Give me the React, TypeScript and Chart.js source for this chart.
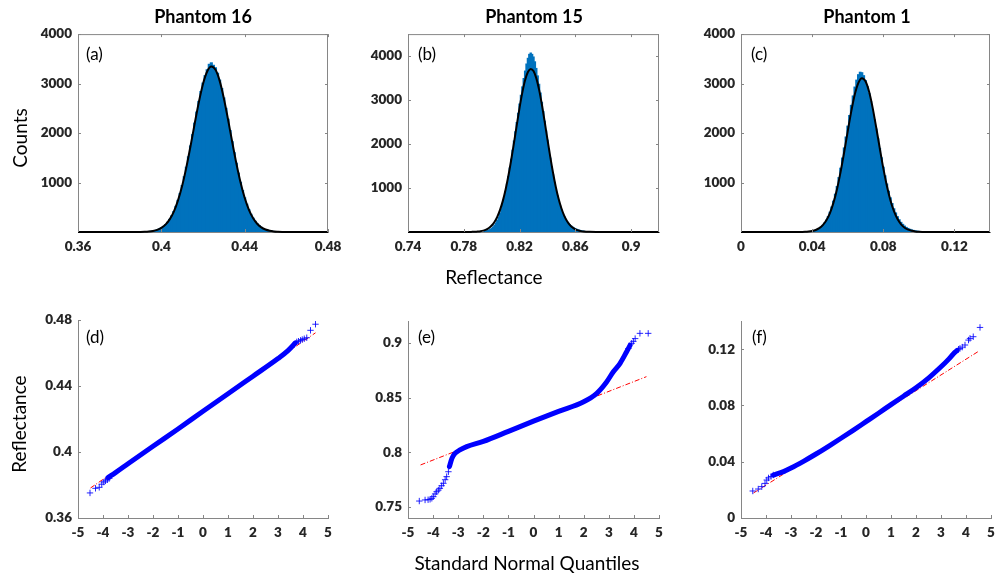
import { useEffect, useRef } from "react";
import { Chart, registerables } from "chart.js";

Chart.register(...registerables);

// ---------------- Histogram data (Phantom 16) ----------------
const A_BINS = [0.389, 0.390, 0.391, 0.392, 0.393, 0.394, 0.395, 0.396, 0.397, 0.398, 0.399, 0.400, 0.401, 0.402, 0.403, 0.404, 0.405, 0.406, 0.407, 0.408, 0.409, 0.410, 0.411, 0.412, 0.413, 0.414, 0.415, 0.416, 0.417, 0.418, 0.419, 0.420, 0.421, 0.422, 0.423, 0.424, 0.425, 0.426, 0.427, 0.428, 0.429, 0.430, 0.431, 0.432, 0.433, 0.434, 0.435, 0.436, 0.437, 0.438, 0.439, 0.440, 0.441, 0.442, 0.443, 0.444, 0.445, 0.446, 0.447, 0.448, 0.449, 0.450, 0.451, 0.452, 0.453, 0.454, 0.455, 0.456, 0.457, 0.458, 0.459];
const A_COUNTS = [1, 2, 3, 5, 7, 11, 15, 22, 31, 44, 62, 84, 113, 150, 197, 256, 328, 415, 519, 641, 780, 940, 1118, 1310, 1520, 1740, 1968, 2200, 2425, 2640, 2840, 3010, 3160, 3280, 3390, 3420, 3370, 3320, 3210, 3070, 2900, 2710, 2500, 2280, 2052, 1826, 1603, 1390, 1190, 1005, 839, 691, 563, 453, 359, 282, 218, 167, 126, 94, 69, 50, 36, 25, 18, 12, 8, 6, 4, 2, 1];
const A_FIT_X = [0.36, 0.37, 0.38, 0.386, 0.388, 0.390, 0.392, 0.394, 0.396, 0.398, 0.400, 0.402, 0.404, 0.406, 0.408, 0.410, 0.412, 0.414, 0.416, 0.418, 0.420, 0.422, 0.424, 0.426, 0.428, 0.430, 0.432, 0.434, 0.436, 0.438, 0.440, 0.442, 0.444, 0.446, 0.448, 0.450, 0.452, 0.454, 0.456, 0.458, 0.460, 0.462, 0.47, 0.48];
const A_FIT_Y = [0, 0, 0, 0, 1, 2, 5, 11, 22, 44, 83, 149, 255, 413, 639, 936, 1307, 1734, 2189, 2624, 2993, 3244, 3344, 3277, 3054, 2704, 2278, 1825, 1389, 1005, 691, 453, 282, 167, 94, 50, 25, 12, 6, 2, 1, 0, 0, 0];

// ---------------- Histogram data (Phantom 15) ----------------
const B_BINS = [0.795, 0.796, 0.797, 0.798, 0.799, 0.800, 0.801, 0.802, 0.803, 0.804, 0.805, 0.806, 0.807, 0.808, 0.809, 0.810, 0.811, 0.812, 0.813, 0.814, 0.815, 0.816, 0.817, 0.818, 0.819, 0.820, 0.821, 0.822, 0.823, 0.824, 0.825, 0.826, 0.827, 0.828, 0.829, 0.830, 0.831, 0.832, 0.833, 0.834, 0.835, 0.836, 0.837, 0.838, 0.839, 0.840, 0.841, 0.842, 0.843, 0.844, 0.845, 0.846, 0.847, 0.848, 0.849, 0.850, 0.851, 0.852, 0.853, 0.854, 0.855, 0.856, 0.857, 0.858, 0.859, 0.860, 0.861, 0.862, 0.863, 0.864, 0.865, 0.866, 0.867, 0.868];
const B_COUNTS = [18, 25, 34, 45, 62, 85, 115, 155, 205, 265, 340, 425, 530, 645, 780, 925, 1090, 1265, 1455, 1655, 1860, 2070, 2280, 2490, 2700, 2910, 3110, 3300, 3490, 3660, 3820, 3950, 4040, 4070, 4040, 3980, 3870, 3720, 3550, 3360, 3160, 2950, 2740, 2520, 2300, 2090, 1880, 1680, 1485, 1300, 1130, 970, 830, 705, 595, 500, 420, 350, 290, 240, 200, 165, 136, 112, 92, 76, 62, 50, 40, 32, 25, 18, 13, 9];
const B_FIT_X = [0.74, 0.78, 0.784, 0.786, 0.788, 0.790, 0.792, 0.794, 0.796, 0.798, 0.800, 0.802, 0.804, 0.806, 0.808, 0.810, 0.812, 0.814, 0.816, 0.818, 0.820, 0.822, 0.824, 0.826, 0.828, 0.830, 0.832, 0.834, 0.836, 0.838, 0.840, 0.842, 0.844, 0.846, 0.848, 0.850, 0.852, 0.854, 0.856, 0.858, 0.860, 0.862, 0.864, 0.866, 0.870, 0.875, 0.92];
const B_FIT_Y = [0, 0, 1, 3, 5, 10, 18, 32, 55, 92, 147, 229, 345, 502, 708, 968, 1279, 1637, 2028, 2432, 2824, 3174, 3454, 3638, 3709, 3662, 3499, 3237, 2899, 2512, 2108, 1713, 1348, 1025, 755, 539, 372, 249, 161, 101, 61, 36, 20, 11, 3, 0, 0];

// ---------------- Histogram data (Phantom 1) ----------------
const C_BINS = [0.034, 0.035, 0.036, 0.037, 0.038, 0.039, 0.040, 0.041, 0.042, 0.043, 0.044, 0.045, 0.046, 0.047, 0.048, 0.049, 0.050, 0.051, 0.052, 0.053, 0.054, 0.055, 0.056, 0.057, 0.058, 0.059, 0.060, 0.061, 0.062, 0.063, 0.064, 0.065, 0.066, 0.067, 0.068, 0.069, 0.070, 0.071, 0.072, 0.073, 0.074, 0.075, 0.076, 0.077, 0.078, 0.079, 0.080, 0.081, 0.082, 0.083, 0.084, 0.085, 0.086, 0.087, 0.088, 0.089, 0.090, 0.091, 0.092, 0.093, 0.094, 0.095, 0.096, 0.097, 0.098, 0.099, 0.100, 0.101, 0.102, 0.103, 0.104, 0.105, 0.106, 0.107, 0.108];
const C_COUNTS = [1, 1, 2, 4, 6, 10, 15, 24, 35, 50, 70, 98, 135, 182, 240, 312, 400, 505, 625, 765, 920, 1100, 1290, 1495, 1700, 1920, 2140, 2355, 2560, 2750, 2930, 3070, 3180, 3230, 3220, 3160, 3060, 2940, 2800, 2640, 2460, 2270, 2080, 1885, 1690, 1500, 1310, 1135, 970, 825, 690, 575, 470, 385, 310, 248, 195, 155, 120, 93, 72, 55, 42, 32, 24, 18, 13, 10, 7, 5, 4, 3, 2, 1, 1];
const C_FIT_X = [0, 0.02, 0.030, 0.032, 0.034, 0.036, 0.038, 0.040, 0.042, 0.044, 0.046, 0.048, 0.050, 0.052, 0.054, 0.056, 0.058, 0.060, 0.062, 0.064, 0.066, 0.068, 0.070, 0.072, 0.074, 0.076, 0.078, 0.080, 0.082, 0.084, 0.086, 0.088, 0.090, 0.092, 0.094, 0.096, 0.098, 0.100, 0.102, 0.104, 0.108, 0.14];
const C_FIT_Y = [0, 0, 0, 1, 2, 4, 10, 21, 41, 77, 139, 237, 384, 594, 871, 1216, 1611, 2034, 2438, 2783, 3016, 3110, 3048, 2840, 2515, 2118, 1698, 1291, 936, 643, 421, 262, 155, 87, 47, 24, 11, 5, 2, 1, 0, 0];

// ---------------- Q-Q data (Phantom 16) ----------------
const D_LINE_X = [-4.5, 4.5];
const D_LINE_Y = [0.3782, 0.4723];
const D_BODY_X = [-3.8, -3.5, -3, -2, -1, 0, 1, 2, 3, 3.4, 3.7];
const D_BODY_Y = [0.3845, 0.3875, 0.3929, 0.4035, 0.4140, 0.4247, 0.4353, 0.4460, 0.4567, 0.4615, 0.4662];
const D_PTS_X = [-4.52, -4.3, -4.15, -4.05, -3.97, -3.9, -3.82, -3.75, 3.75, 3.82, 3.9, 3.97, 4.05, 4.15, 4.3, 4.5];
const D_PTS_Y = [0.3752, 0.3780, 0.3786, 0.3805, 0.3818, 0.3825, 0.3832, 0.3840, 0.4668, 0.4672, 0.4677, 0.4682, 0.4687, 0.4693, 0.4738, 0.4775];

// ---------------- Q-Q data (Phantom 15) ----------------
const E_LINE_X = [-4.5, 4.5];
const E_LINE_Y = [0.7885, 0.8692];
const E_BODY_X = [-3.35, -3.25, -3.13, -2.93, -2.66, -2, -1, 0, 1, 2, 2.52, 2.92, 3.18, 3.45, 3.71, 3.85];
const E_BODY_Y = [0.7870, 0.7945, 0.7990, 0.8022, 0.8052, 0.8100, 0.8192, 0.8285, 0.8375, 0.8463, 0.8540, 0.8646, 0.8737, 0.8814, 0.8920, 0.8980];
const E_PTS_X = [-4.55, -4.32, -4.2, -4.12, -4.05, -3.99, -3.92, -3.86, -3.79, -3.73, -3.66, -3.59, -3.52, -3.46, -3.39, 3.78, 3.91, 3.98, 4.05, 4.24, 4.57];
const E_PTS_Y = [0.7555, 0.7565, 0.7567, 0.7571, 0.7580, 0.7595, 0.7620, 0.7640, 0.7655, 0.7671, 0.7695, 0.7717, 0.7750, 0.7778, 0.7823, 0.8950, 0.8997, 0.9015, 0.9040, 0.9088, 0.9088];

// ---------------- Q-Q data (Phantom 1) ----------------
const F_LINE_X = [-4.5, 4.5];
const F_LINE_Y = [0.0178, 0.1185];
const F_BODY_X = [-3.7, -3.3, -3, -2.5, -2, -1.5, -1, -0.5, 0, 0.5, 1, 1.5, 2, 2.5, 3, 3.3, 3.5, 3.65];
const F_BODY_Y = [0.0305, 0.0330, 0.0355, 0.0403, 0.0455, 0.0510, 0.0567, 0.0625, 0.0685, 0.0745, 0.0806, 0.0866, 0.0926, 0.0995, 0.1075, 0.1128, 0.1168, 0.1192];
const F_PTS_X = [-4.53, -4.31, -4.17, -4.04, -3.97, -3.9, -3.8, -3.71, 3.7, 3.76, 3.85, 3.96, 4.1, 4.16, 4.29, 4.56];
const F_PTS_Y = [0.0192, 0.0206, 0.0223, 0.0246, 0.0270, 0.0285, 0.0295, 0.0306, 0.1200, 0.1206, 0.1215, 0.1230, 0.1265, 0.1277, 0.1289, 0.1355];

// ---------------- Tick labels ----------------
const A_XTICKS = [0.36, 0.4, 0.44, 0.48];
const B_XTICKS = [0.74, 0.78, 0.82, 0.86, 0.9];
const C_XTICKS = [0, 0.04, 0.08, 0.12];
const COUNT_TICKS = [1000, 2000, 3000, 4000];
const Q_XTICKS = [-5, -4, -3, -2, -1, 0, 1, 2, 3, 4, 5];
const D_YTICKS = [0.36, 0.4, 0.44, 0.48];
const E_YTICKS = [0.75, 0.8, 0.85, 0.9];
const F_YTICKS = [0, 0.04, 0.08, 0.12];

const TITLES = ["Phantom 16", "Phantom 15", "Phantom 1"];
const PANEL_TAGS = ["(a)", "(b)", "(c)", "(d)", "(e)", "(f)"];

// ---------------- Styling / layout ----------------
const FONT = "Lato, 'Open Sans', 'DejaVu Sans', sans-serif";
const AXIS_COLOR = "#868686";
const TICK_COLOR = "#262626";
const HIST_BLUE = "#0072BD";
const QQ_BLUE = "#0000FF";

const PAD_L = 60, PAD_T = 14, PAD_R = 24, PAD_B = 30;

type Box = { l: number; t: number; r: number; b: number };
const BOX_A: Box = { l: 78, t: 34, r: 328, b: 232 };
const BOX_B: Box = { l: 408, t: 34, r: 659, b: 232 };
const BOX_C: Box = { l: 741, t: 34, r: 990, b: 232 };
const BOX_D: Box = { l: 78, t: 320, r: 328, b: 518 };
const BOX_E: Box = { l: 408, t: 321, r: 659, b: 518 };
const BOX_F: Box = { l: 741, t: 321, r: 991, b: 518 };

const zip = (xs: number[], ys: number[]) => xs.map((x, i) => ({ x, y: ys[i] }));

const framePlugin = {
  id: "frame",
  afterDatasetsDraw(chart: any, _args: any, opts: any) {
    const { ctx, chartArea, scales } = chart;
    const { left, right, top, bottom } = chartArea;
    const L = 3;
    ctx.save();
    ctx.strokeStyle = AXIS_COLOR;
    ctx.lineWidth = 1;
    ctx.beginPath();
    if (opts && opts.box) {
      ctx.moveTo(left, top + 0.5);
      ctx.lineTo(right, top + 0.5);
      ctx.moveTo(right - 0.5, top);
      ctx.lineTo(right - 0.5, bottom);
    }
    for (const t of scales.x.ticks) {
      const p = Math.round(scales.x.getPixelForValue(t.value)) + 0.5;
      ctx.moveTo(p, bottom);
      ctx.lineTo(p, bottom - L);
      if (opts && opts.box) {
        ctx.moveTo(p, top);
        ctx.lineTo(p, top + L);
      }
    }
    for (const t of scales.y.ticks) {
      const p = Math.round(scales.y.getPixelForValue(t.value)) + 0.5;
      ctx.moveTo(left, p);
      ctx.lineTo(left + L, p);
      if (opts && opts.box) {
        ctx.moveTo(right, p);
        ctx.lineTo(right - L, p);
      }
    }
    ctx.stroke();
    ctx.restore();
  },
};

function makeScales(xMin: number, xMax: number, xTicks: number[], yMin: number, yMax: number, yTicks: number[]) {
  const font = { family: FONT, size: 13.5, weight: 800 as any };
  return {
    x: {
      type: "linear" as const,
      min: xMin,
      max: xMax,
      offset: false,
      grid: { display: false, drawTicks: false },
      border: { display: true, color: AXIS_COLOR, width: 1 },
      ticks: { color: TICK_COLOR, font, padding: 7, autoSkip: false, maxRotation: 0, callback: (v: any) => String(v) },
      afterBuildTicks: (s: any) => { s.ticks = xTicks.map((v) => ({ value: v })); },
      afterFit: (s: any) => { s.height = PAD_B; },
    },
    y: {
      type: "linear" as const,
      min: yMin,
      max: yMax,
      grid: { display: false, drawTicks: false },
      border: { display: true, color: AXIS_COLOR, width: 1 },
      ticks: { color: TICK_COLOR, font, padding: 6, autoSkip: false, callback: (v: any) => String(v) },
      afterBuildTicks: (s: any) => { s.ticks = yTicks.map((v) => ({ value: v })); },
      afterFit: (s: any) => { s.width = PAD_L; },
    },
  };
}

function baseOptions(scales: any, box: boolean) {
  return {
    responsive: false,
    animation: false as const,
    devicePixelRatio: 1,
    events: [],
    layout: { padding: { left: 0, top: PAD_T, right: PAD_R, bottom: 0 } },
    plugins: { legend: { display: false }, tooltip: { enabled: false }, frame: { box } },
    scales,
  };
}

function histConfig(bins: number[], counts: number[], fx: number[], fy: number[], xMin: number, xMax: number, xTicks: number[], yMax: number): any {
  return {
    type: "bar",
    data: {
      datasets: [
        {
          type: "line",
          data: zip(fx, fy),
          borderColor: "#000000",
          borderWidth: 2,
          pointRadius: 0,
          cubicInterpolationMode: "monotone",
          clip: 4,
        },
        {
          type: "bar",
          data: zip(bins, counts),
          backgroundColor: HIST_BLUE,
          borderWidth: 0,
          barPercentage: 1,
          categoryPercentage: 1,
          inflateAmount: 0.5,
          grouped: false,
        },
      ],
    },
    options: baseOptions(makeScales(xMin, xMax, xTicks, 0, yMax, COUNT_TICKS), true),
    plugins: [framePlugin],
  };
}

function qqConfig(px: number[], py: number[], bx: number[], by: number[], lx: number[], ly: number[], yMin: number, yMax: number, yTicks: number[]): any {
  return {
    type: "scatter",
    data: {
      datasets: [
        {
          type: "scatter",
          data: zip(px, py),
          pointStyle: "cross",
          pointRadius: 3.2,
          borderColor: "rgba(0,0,255,0.85)",
          backgroundColor: "rgba(0,0,255,0.85)",
          borderWidth: 1,
          showLine: false,
        },
        {
          type: "line",
          data: zip(bx, by),
          borderColor: QQ_BLUE,
          borderWidth: 5,
          borderCapStyle: "round",
          pointRadius: 0,
          cubicInterpolationMode: "monotone",
        },
        {
          type: "line",
          data: zip(lx, ly),
          borderColor: "#FF0000",
          borderWidth: 1,
          borderDash: [5, 2, 1, 2],
          pointRadius: 0,
        },
      ],
    },
    options: baseOptions(makeScales(-5, 5, Q_XTICKS, yMin, yMax, yTicks), false),
    plugins: [framePlugin],
  };
}

function Panel({ box, config }: { box: Box; config: () => any }) {
  const ref = useRef<HTMLCanvasElement>(null);
  const w = box.r - box.l + PAD_L + PAD_R;
  const h = box.b - box.t + PAD_T + PAD_B;
  useEffect(() => {
    const chart = new Chart(ref.current as HTMLCanvasElement, config());
    return () => chart.destroy();
  }, []);
  return (
    <canvas
      ref={ref}
      width={w}
      height={h}
      style={{ position: "absolute", left: box.l - PAD_L, top: box.t - PAD_T, width: w, height: h }}
    />
  );
}

const ASC = 0.987;

function Text({ x, y, size, bold, children, align = "center", color = "#000" }: any) {
  return (
    <div
      style={{
        position: "absolute",
        left: x,
        top: y - ASC * size,
        transform: align === "center" ? "translateX(-50%)" : "none",
        fontFamily: FONT,
        fontSize: size,
        fontWeight: bold ? 700 : 400,
        lineHeight: "normal",
        whiteSpace: "nowrap",
        color,
      }}
    >
      {children}
    </div>
  );
}

function VText({ cx, cy, size, children }: any) {
  return (
    <div
      style={{
        position: "absolute",
        left: cx,
        top: cy,
        transform: "translate(-50%, -50%) rotate(-90deg)",
        fontFamily: FONT,
        fontSize: size,
        lineHeight: "normal",
        whiteSpace: "nowrap",
        color: "#000",
      }}
    >
      {children}
    </div>
  );
}

export default function App() {
  return (
    <div style={{ position: "absolute", left: 0, top: 0, width: 995, height: 578, background: "#fff", overflow: "hidden" }}>
      <Panel box={BOX_A} config={() => histConfig(A_BINS, A_COUNTS, A_FIT_X, A_FIT_Y, 0.36, 0.48, A_XTICKS, 4000)} />
      <Panel box={BOX_B} config={() => histConfig(B_BINS, B_COUNTS, B_FIT_X, B_FIT_Y, 0.74, 0.92, B_XTICKS, 4500)} />
      <Panel box={BOX_C} config={() => histConfig(C_BINS, C_COUNTS, C_FIT_X, C_FIT_Y, 0, 0.14, C_XTICKS, 4000)} />
      <Panel box={BOX_D} config={() => qqConfig(D_PTS_X, D_PTS_Y, D_BODY_X, D_BODY_Y, D_LINE_X, D_LINE_Y, 0.36, 0.48, D_YTICKS)} />
      <Panel box={BOX_E} config={() => qqConfig(E_PTS_X, E_PTS_Y, E_BODY_X, E_BODY_Y, E_LINE_X, E_LINE_Y, 0.74, 0.92, E_YTICKS)} />
      <Panel box={BOX_F} config={() => qqConfig(F_PTS_X, F_PTS_Y, F_BODY_X, F_BODY_Y, F_LINE_X, F_LINE_Y, 0, 0.14, F_YTICKS)} />

      <Text x={203} y={23} size={18} bold>{TITLES[0]}</Text>
      <Text x={534} y={23} size={18} bold>{TITLES[1]}</Text>
      <Text x={867} y={23} size={18} bold>{TITLES[2]}</Text>

      <Text x={86} y={60} size={17} align="left">{PANEL_TAGS[0]}</Text>
      <Text x={418} y={60} size={17} align="left">{PANEL_TAGS[1]}</Text>
      <Text x={751} y={60} size={17} align="left">{PANEL_TAGS[2]}</Text>
      <Text x={86} y={343} size={17} align="left">{PANEL_TAGS[3]}</Text>
      <Text x={418} y={343} size={17} align="left">{PANEL_TAGS[4]}</Text>
      <Text x={752} y={343} size={17} align="left">{PANEL_TAGS[5]}</Text>

      <VText cx={18.5} cy={137.5} size={19}>Counts</VText>
      <VText cx={18} cy={423.5} size={19}>Reflectance</VText>
      <Text x={494} y={284} size={19}>Reflectance</Text>
      <Text x={527} y={570} size={19}>Standard Normal Quantiles</Text>
    </div>
  );
}
